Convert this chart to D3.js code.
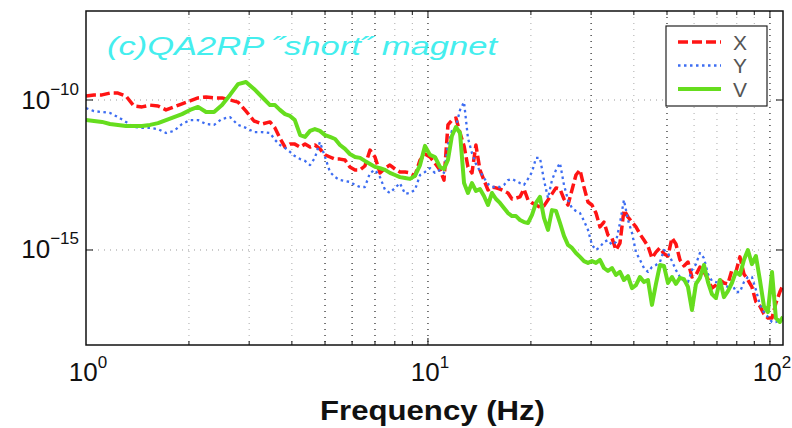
<!DOCTYPE html>
<html>
<head>
<meta charset="utf-8">
<script src="https://cdn.jsdelivr.net/npm/d3@7"></script>
<style>
  body { margin: 0; background: #fff; }
  svg { display: block; font-family: "Liberation Sans", Arial, sans-serif; }
</style>
</head>
<body>
<svg id="chart" width="792" height="428"></svg>
<script>
// frequency grid (Hz)
const freq = [
  1.000, 1.055, 1.114, 1.175, 1.240, 1.309, 1.381, 1.458, 1.539, 1.624,
  1.714, 1.809, 1.909, 2.015, 2.126, 2.244, 2.368, 2.499, 2.637, 2.783,
  2.937, 3.100, 3.271, 3.452, 3.57, 3.69, 3.82, 3.95, 4.08, 4.23,
  4.37, 4.52, 4.67, 4.83, 5.00, 5.17, 5.35, 5.53, 5.72, 5.91,
  6.12, 6.33, 6.54, 6.77, 7.00, 7.24, 7.49, 7.74, 8.01, 8.28,
  8.57, 8.86, 9.16, 9.48, 9.80, 10.14, 10.48, 10.84, 11.14, 11.44,
  11.75, 12.07, 12.41, 12.75, 13.09, 13.45, 13.81, 14.19, 14.58, 14.98,
  15.39, 15.81, 16.24, 16.68, 17.14, 17.61, 18.09, 18.58, 19.09, 19.61,
  20.15, 20.70, 21.26, 21.84, 22.44, 23.05, 23.68, 24.32, 24.99, 25.67,
  26.37, 27.09, 27.83, 28.59, 29.37, 30.17, 31.00, 31.84, 32.71, 33.60,
  34.52, 35.46, 36.43, 37.42, 38.45, 39.50, 40.57, 41.68, 42.82, 43.99,
  45.19, 46.42, 47.69, 48.99, 50.33, 51.70, 53.11, 54.56, 56.05, 57.58,
  59.15, 60.77, 62.42, 64.13, 65.88, 67.67, 69.52, 71.42, 73.36, 75.37,
  77.42, 79.53, 81.70, 83.93, 86.22, 88.58, 91.00, 93.48, 96.04, 98.66,
  101.4, 104.1, 106.9, 109.2
];

// log10 of the spectra
const logX = [
  -9.87, -9.83, -9.83, -9.77, -9.77, -9.87, -10.20, -10.23, -10.17, -10.20,
  -10.33, -10.23, -10.13, -10.03, -9.93, -9.90, -9.93, -9.93, -10.00, -10.07,
  -10.37, -10.70, -10.80, -10.73, -10.93, -11.27, -11.57, -11.47, -11.47, -11.57,
  -11.47, -11.57, -11.50, -11.63, -11.83, -11.90, -11.97, -11.97, -12.00, -12.23,
  -12.33, -12.33, -12.20, -11.67, -11.90, -12.43, -12.27, -12.17, -12.30, -12.40,
  -12.40, -12.43, -12.53, -12.00, -11.80, -11.90, -12.10, -12.33, -12.67, -10.83,
  -10.67, -10.60, -11.10, -11.53, -12.23, -12.43, -11.50, -12.33, -12.67, -13.00,
  -12.90, -12.93, -12.97, -13.03, -13.10, -13.30, -13.27, -13.23, -12.97, -13.33,
  -13.43, -13.50, -13.57, -13.53, -13.33, -13.13, -12.93, -12.97, -13.30, -13.50,
  -13.00, -12.50, -12.33, -12.90, -13.40, -13.50, -13.77, -14.23, -14.07, -14.50,
  -14.60, -15.00, -14.77, -13.67, -13.90, -14.07, -14.23, -14.47, -14.67, -14.87,
  -15.27, -15.07, -14.93, -15.13, -15.20, -14.60, -14.80, -15.33, -15.53, -15.40,
  -15.90, -15.83, -15.57, -15.73, -15.97, -16.27, -16.17, -16.00, -16.10, -16.13,
  -15.67, -15.73, -15.23, -15.80, -16.00, -16.23, -16.73, -16.87, -17.13, -17.27,
  -17.27, -16.77, -16.40, -16.17
];

const logY = [
  -10.27, -10.37, -10.40, -10.43, -10.57, -10.73, -10.90, -10.93, -10.93, -10.97,
  -11.10, -11.03, -10.80, -10.67, -10.67, -10.80, -10.83, -10.63, -10.57, -10.83,
  -10.93, -11.07, -11.07, -11.10, -11.33, -11.50, -11.60, -11.73, -11.87, -11.97,
  -12.03, -12.17, -11.93, -11.40, -11.90, -12.40, -12.57, -12.67, -12.70, -12.73,
  -12.83, -12.90, -12.90, -12.43, -12.33, -12.57, -13.00, -13.10, -12.93, -12.77,
  -13.13, -13.10, -13.00, -12.50, -12.40, -12.27, -12.43, -12.33, -12.43, -11.50,
  -11.03, -10.90, -10.33, -10.07, -11.27, -11.77, -12.13, -12.37, -12.60, -12.80,
  -12.90, -12.90, -12.90, -12.83, -12.67, -12.63, -12.70, -12.77, -12.83, -12.63,
  -12.40, -11.93, -11.93, -12.67, -13.27, -12.67, -12.33, -12.10, -12.83, -13.33,
  -13.60, -13.70, -13.77, -14.03, -14.33, -14.83, -15.00, -14.90, -14.73, -14.67,
  -14.83, -14.73, -14.10, -13.33, -14.00, -14.43, -15.07, -15.33, -15.60, -15.73,
  -15.57, -15.50, -15.40, -15.00, -15.10, -15.37, -15.67, -15.90, -16.03, -16.07,
  -15.67, -15.47, -15.10, -15.27, -15.80, -16.03, -16.07, -16.10, -16.17, -16.23,
  -16.10, -16.40, -16.40, -16.07, -15.90, -15.90, -16.33, -16.83, -17.07, -17.23,
  -17.40, -17.40, -17.33, -17.27
];

const logV = [
  -10.67, -10.70, -10.73, -10.80, -10.83, -10.87, -10.87, -10.87, -10.83, -10.77,
  -10.67, -10.57, -10.47, -10.33, -10.23, -10.40, -10.40, -10.17, -9.83, -9.47,
  -9.40, -9.63, -9.90, -10.17, -10.17, -10.33, -10.47, -10.53, -10.67, -11.17,
  -11.23, -11.03, -10.97, -11.03, -11.17, -11.23, -11.30, -11.50, -11.63, -11.80,
  -11.90, -11.93, -12.03, -12.13, -12.23, -12.27, -12.33, -12.43, -12.50, -12.57,
  -12.60, -12.63, -12.53, -12.17, -11.53, -11.83, -11.90, -12.23, -12.30, -12.00,
  -11.20, -10.90, -11.10, -12.77, -13.10, -12.77, -13.03, -12.97, -13.20, -13.50,
  -13.10, -13.30, -13.43, -13.60, -13.77, -13.87, -13.87, -14.00, -14.07, -14.10,
  -13.83, -13.43, -13.23, -13.93, -14.33, -13.67, -13.70, -14.10, -14.53, -14.83,
  -14.93, -15.10, -15.23, -15.37, -15.43, -15.37, -15.43, -15.33, -15.60, -15.70,
  -15.60, -15.83, -15.73, -16.00, -15.87, -16.27, -16.17, -15.90, -16.07, -16.00,
  -16.83, -16.13, -15.50, -15.53, -16.10, -15.90, -16.13, -15.93, -15.97, -16.23,
  -17.00, -16.13, -15.93, -15.50, -16.07, -16.47, -16.60, -16.00, -16.57, -16.37,
  -16.10, -15.73, -15.83, -15.33, -15.00, -15.47, -15.20, -16.00, -16.87, -17.07,
  -15.73, -17.27, -17.40, -17.23
];

const seriesNames = ['X', 'Y', 'V'];
const xLabelDecades = [0, 1, 2];
const xGridTicks = [2, 3, 4, 5, 6, 7, 8, 9, 10, 20, 30, 40, 50, 60, 70, 80, 90, 100];
const xGridDark = [5, 6, 7, 10, 30, 50, 100];
const yLabelDecades = [-10, -15];
const titleText = '(c)QA2RP \u02DDshort\u02DD magnet';
const xAxisTitle = 'Frequency (Hz)';

const W = 792, H = 428;
const margin = { top: 11, right: 9, bottom: 83, left: 86 };
const x = d3.scaleLog().domain([1, 109.2]).range([margin.left, W - margin.right]);
const y = d3.scaleLog().domain([10 ** -18.167, 10 ** -7.033]).range([H - margin.bottom, margin.top]);

const svg = d3.select('#chart');

svg.append('defs').append('clipPath').attr('id', 'plot-clip')
  .append('rect')
  .attr('x', margin.left).attr('y', margin.top)
  .attr('width', W - margin.left - margin.right)
  .attr('height', H - margin.top - margin.bottom);

// grid
const grid = svg.append('g');
grid.selectAll('line.vg')
  .data(xGridTicks)
  .join('line')
  .attr('x1', (d) => x(d)).attr('x2', (d) => x(d))
  .attr('y1', margin.top).attr('y2', H - margin.bottom)
  .attr('stroke', (d) => (xGridDark.includes(d) ? '#333' : '#aaa'))
  .attr('stroke-width', (d) => (xGridDark.includes(d) ? 1.3 : 1))
  .attr('stroke-dasharray', '1,5');
grid.selectAll('line.hg')
  .data(yLabelDecades)
  .join('line')
  .attr('x1', margin.left).attr('x2', W - margin.right)
  .attr('y1', (d) => y(10 ** d)).attr('y2', (d) => y(10 ** d))
  .attr('stroke', '#999')
  .attr('stroke-dasharray', '1,5');

// series
const series = [
  { name: seriesNames[0], values: logX, color: '#ff1414', width: 3.5, dash: '10,4' },
  { name: seriesNames[1], values: logY, color: '#3d6df2', width: 2.3, dash: '2.5,3.5' },
  { name: seriesNames[2], values: logV, color: '#66dd1e', width: 4, dash: null },
];

const line = d3.line()
  .x((d) => x(d.f))
  .y((d) => y(d.v));

const plot = svg.append('g').attr('clip-path', 'url(#plot-clip)');
series.forEach((s) => {
  const pts = freq.map((f, i) => ({ f, v: 10 ** s.values[i] }));
  plot.append('path')
    .datum(pts)
    .attr('d', line)
    .attr('fill', 'none')
    .attr('stroke', s.color)
    .attr('stroke-width', s.width)
    .attr('stroke-linejoin', 'round')
    .attr('stroke-dasharray', s.dash);
});

// frame
svg.append('rect')
  .attr('x', margin.left).attr('y', margin.top)
  .attr('width', W - margin.left - margin.right)
  .attr('height', H - margin.top - margin.bottom)
  .attr('fill', 'none')
  .attr('stroke', '#111')
  .attr('stroke-width', 1.5);

// inward ticks
const ticks = svg.append('g').attr('stroke', '#111').attr('stroke-width', 1);
xGridTicks.forEach((t) => {
  const len = [10, 100].includes(t) ? 7 : 4;
  ticks.append('line').attr('x1', x(t)).attr('x2', x(t))
    .attr('y1', H - margin.bottom).attr('y2', H - margin.bottom - len);
  ticks.append('line').attr('x1', x(t)).attr('x2', x(t))
    .attr('y1', margin.top).attr('y2', margin.top + len);
});
yLabelDecades.forEach((d) => {
  ticks.append('line').attr('x1', margin.left).attr('x2', margin.left + 7)
    .attr('y1', y(10 ** d)).attr('y2', y(10 ** d));
  ticks.append('line').attr('x1', W - margin.right).attr('x2', W - margin.right - 7)
    .attr('y1', y(10 ** d)).attr('y2', y(10 ** d));
});

// tick labels
const yl = svg.append('g').attr('fill', '#111');
yLabelDecades.forEach((d) => {
  const t = yl.append('text')
    .attr('x', margin.left - 7)
    .attr('y', y(10 ** d) + 8.5)
    .attr('text-anchor', 'end')
    .attr('font-size', 26);
  t.append('tspan').text('10');
  t.append('tspan').attr('dy', -14).attr('font-size', 17).text('\u2212' + Math.abs(d));
});

xLabelDecades.forEach((d) => {
  const t = yl.append('text')
    .attr('x', x(10 ** d) + 2)
    .attr('y', 381)
    .attr('text-anchor', 'middle')
    .attr('font-size', 26);
  t.append('tspan').text('10');
  t.append('tspan').attr('dy', -13).attr('font-size', 17).text(String(d));
});

// axis title
svg.append('text')
  .attr('x', 320).attr('y', 420)
  .attr('font-size', 28)
  .attr('font-weight', 'bold')
  .attr('fill', '#111')
  .attr('textLength', 225)
  .attr('lengthAdjust', 'spacingAndGlyphs')
  .text(xAxisTitle);

// panel title
svg.append('text')
  .attr('x', 107).attr('y', 55)
  .attr('font-size', 25)
  .attr('font-style', 'italic')
  .attr('fill', '#44eeee')
  .attr('textLength', 390)
  .attr('lengthAdjust', 'spacingAndGlyphs')
  .text(titleText);

// legend
const lg = svg.append('g');
lg.append('rect')
  .attr('x', 666).attr('y', 26).attr('width', 101).attr('height', 80)
  .attr('fill', '#fff').attr('stroke', '#222').attr('stroke-width', 1.2);
series.forEach((s, i) => {
  const yy = 42 + i * 23.5;
  lg.append('line')
    .attr('x1', 678).attr('x2', 721).attr('y1', yy).attr('y2', yy)
    .attr('stroke', s.color).attr('stroke-width', s.width)
    .attr('stroke-dasharray', s.dash);
  lg.append('text')
    .attr('x', 740).attr('y', yy + 7.5)
    .attr('text-anchor', 'middle')
    .attr('font-size', 21)
    .attr('fill', '#555')
    .text(s.name);
});
</script>
</body>
</html>
